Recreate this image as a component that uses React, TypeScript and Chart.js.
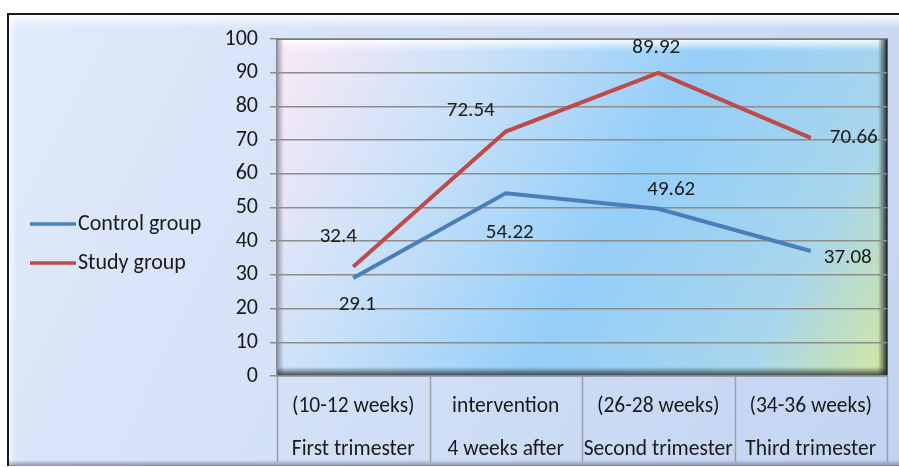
import React, { useEffect, useRef } from 'react';
import { Chart, registerables } from 'chart.js';

Chart.register(...registerables);

const categoryTop = ['(10-12 weeks)', 'intervention', '(26-28 weeks)', '(34-36 weeks)'];
const categoryBottom = ['First trimester', '4 weeks after', 'Second trimester', 'Third trimester'];
const seriesNames = ['Control group', 'Study group'];
const controlValues = [29.1, 54.22, 49.62, 37.08];
const studyValues = [32.4, 72.54, 89.92, 70.66];
const yMin = 0;
const yMax = 100;
const yStep = 10;

// label placement offsets (style only)
const controlLabelOffsets = [[4, 27], [4, 39], [13, -19], [37, 7]];
const studyLabelOffsets = [[-15, -30], [-35, -21], [-2, -25], [43, 0]];

const FONT = 'Calibri, Carlito, Lato, sans-serif';
const seriesColors = ['#4a7ebb', '#be4b48'];

const framePlugin = {
  id: 'frame',
  beforeDraw(chart: any) {
    const { ctx, chartArea: a, width, height } = chart;
    ctx.save();
    ctx.fillStyle = '#ffffff';
    ctx.fillRect(0, 0, width, height);
    // outer frame
    const fx = 8, fy = 14, fw = width + 10, fh = height - fy - 1;
    const g = ctx.createLinearGradient(fx, fy, fx + fw, fy + fh);
    g.addColorStop(0, '#e0ebfa');
    g.addColorStop(1, '#c2d3f2');
    ctx.fillStyle = g;
    ctx.fillRect(fx, fy, fw, fh);
    const hi = ctx.createLinearGradient(0, fy, 0, fy + 14);
    hi.addColorStop(0, 'rgba(255,255,255,0.95)');
    hi.addColorStop(1, 'rgba(255,255,255,0)');
    ctx.fillStyle = hi;
    ctx.fillRect(fx, fy, fw, 14);
    const lf = ctx.createLinearGradient(fx, 0, fx + 8, 0);
    lf.addColorStop(0, 'rgba(255,255,255,0.8)');
    lf.addColorStop(1, 'rgba(255,255,255,0)');
    ctx.fillStyle = lf;
    ctx.fillRect(fx, fy, 8, fh);
    const bt = ctx.createLinearGradient(0, fy + fh - 6, 0, fy + fh);
    bt.addColorStop(0, 'rgba(80,90,120,0)');
    bt.addColorStop(1, 'rgba(80,90,120,0.6)');
    ctx.fillStyle = bt;
    ctx.fillRect(fx, fy + fh - 6, fw, 6);
    ctx.strokeStyle = '#1a1a1a';
    ctx.lineWidth = 2;
    ctx.beginPath();
    ctx.moveTo(fx, fy + fh);
    ctx.lineTo(fx, fy);
    ctx.lineTo(width, fy);
    ctx.stroke();

    // plot area
    const w = a.right - a.left, h = a.bottom - a.top;
    const pg = ctx.createLinearGradient(a.left, a.top, a.right, a.bottom);
    pg.addColorStop(0, '#fbe9f6');
    pg.addColorStop(0.25, '#cde2f8');
    pg.addColorStop(0.55, '#94cef8');
    pg.addColorStop(0.82, '#a8d6ec');
    pg.addColorStop(1, '#d3e6a0');
    ctx.fillStyle = pg;
    ctx.fillRect(a.left, a.top, w, h);
    const th = ctx.createLinearGradient(0, a.top, 0, a.top + 12);
    th.addColorStop(0, 'rgba(255,255,255,0.95)');
    th.addColorStop(1, 'rgba(255,255,255,0)');
    ctx.fillStyle = th;
    ctx.fillRect(a.left, a.top, w, 12);
    const ls = ctx.createLinearGradient(a.left, 0, a.left + 7, 0);
    ls.addColorStop(0, 'rgba(90,90,110,0.55)');
    ls.addColorStop(1, 'rgba(90,90,110,0)');
    ctx.fillStyle = ls;
    ctx.fillRect(a.left, a.top, 7, h);
    const rs = ctx.createLinearGradient(a.right, 0, a.right - 9, 0);
    rs.addColorStop(0, 'rgba(20,25,30,0.85)');
    rs.addColorStop(1, 'rgba(20,25,30,0)');
    ctx.fillStyle = rs;
    ctx.fillRect(a.right - 9, a.top, 9, h);
    const bs = ctx.createLinearGradient(0, a.bottom, 0, a.bottom - 9);
    bs.addColorStop(0, 'rgba(20,25,30,0.8)');
    bs.addColorStop(1, 'rgba(20,25,30,0)');
    ctx.fillStyle = bs;
    ctx.fillRect(a.left, a.bottom - 9, w, 9);
    ctx.strokeStyle = 'rgba(30,30,30,0.85)';
    ctx.lineWidth = 1.5;
    ctx.beginPath();
    ctx.moveTo(a.left, a.top);
    ctx.lineTo(a.right, a.top);
    ctx.lineTo(a.right, a.bottom);
    ctx.stroke();
    ctx.restore();
  },
  afterDraw(chart: any) {
    const { ctx, chartArea: a, scales } = chart;
    const x = scales.x;
    ctx.save();
    // category separators
    ctx.strokeStyle = '#9a9fa8';
    ctx.lineWidth = 1.5;
    const n = categoryTop.length;
    const bounds: number[] = [a.left];
    for (let i = 0; i < n - 1; i++) {
      bounds.push((x.getPixelForValue(i) + x.getPixelForValue(i + 1)) / 2);
    }
    bounds.push(a.right);
    ctx.beginPath();
    for (const b of bounds) {
      ctx.moveTo(Math.round(b) + 0.5, a.bottom);
      ctx.lineTo(Math.round(b) + 0.5, 462);
    }
    ctx.stroke();
    // legend
    ctx.font = `22px ${FONT}`;
    ctx.textBaseline = 'middle';
    ctx.textAlign = 'left';
    const legendY = [224, 263];
    chart.data.datasets.forEach((ds: any, i: number) => {
      ctx.strokeStyle = ds.borderColor;
      ctx.lineWidth = 3.5;
      ctx.beginPath();
      ctx.moveTo(30, legendY[i]);
      ctx.lineTo(76, legendY[i]);
      ctx.stroke();
      ctx.fillStyle = '#1a1a1a';
      ctx.fillText(ds.label, 78, legendY[i]);
    });
    // data labels
    const offsets = [controlLabelOffsets, studyLabelOffsets];
    ctx.textAlign = 'center';
    ctx.font = `21px ${FONT}`;
    ctx.fillStyle = '#1a1a1a';
    chart.data.datasets.forEach((ds: any, di: number) => {
      const meta = chart.getDatasetMeta(di);
      meta.data.forEach((pt: any, i: number) => {
        const [dx, dy] = offsets[di][i];
        ctx.fillText(String(ds.data[i]), pt.x + dx, pt.y + dy);
      });
    });
    ctx.restore();
  },
};

export default function App() {
  const ref = useRef<HTMLCanvasElement>(null);
  useEffect(() => {
    document.body.style.margin = '0';
    const chart = new Chart(ref.current!, {
      type: 'line',
      data: {
        labels: categoryTop.map((t, i) => [t, categoryBottom[i]]),
        datasets: [
          {
            label: seriesNames[0],
            data: controlValues,
            borderColor: seriesColors[0],
            backgroundColor: seriesColors[0],
            borderWidth: 4,
            pointRadius: 0,
            tension: 0,
          },
          {
            label: seriesNames[1],
            data: studyValues,
            borderColor: seriesColors[1],
            backgroundColor: seriesColors[1],
            borderWidth: 4,
            pointRadius: 0,
            tension: 0,
          },
        ],
      },
      options: {
        animation: false,
        responsive: false,
        devicePixelRatio: 1,
        layout: { padding: { top: 39, right: 12, left: 0, bottom: 0 } },
        plugins: { legend: { display: false }, tooltip: { enabled: false } },
        scales: {
          x: {
            offset: true,
            grid: { display: false, drawTicks: false },
            border: { display: true, color: '#8a8a8a', width: 1.5 },
            ticks: {
              padding: 9,
              color: '#1a1a1a',
              font: { family: FONT, size: 21.5, lineHeight: '43px' as any },
              maxRotation: 0,
              autoSkip: false,
            },
            afterFit(scale: any) {
              scale.height = 91;
            },
          },
          y: {
            min: yMin,
            max: yMax,
            ticks: {
              stepSize: yStep,
              padding: 12,
              color: '#1a1a1a',
              font: { family: FONT, size: 22 },
            },
            grid: { color: '#8c8c8c', lineWidth: 1.5, tickLength: 7, drawTicks: true },
            border: { display: true, color: '#8c8c8c', width: 1.5 },
            afterFit(scale: any) {
              scale.width = 277;
            },
          },
        },
      },
      plugins: [framePlugin],
    });
    return () => chart.destroy();
  }, []);
  return (
    <div style={{ width: 899, height: 467 }}>
      <canvas ref={ref} width={899} height={467} style={{ display: 'block' }} />
    </div>
  );
}
